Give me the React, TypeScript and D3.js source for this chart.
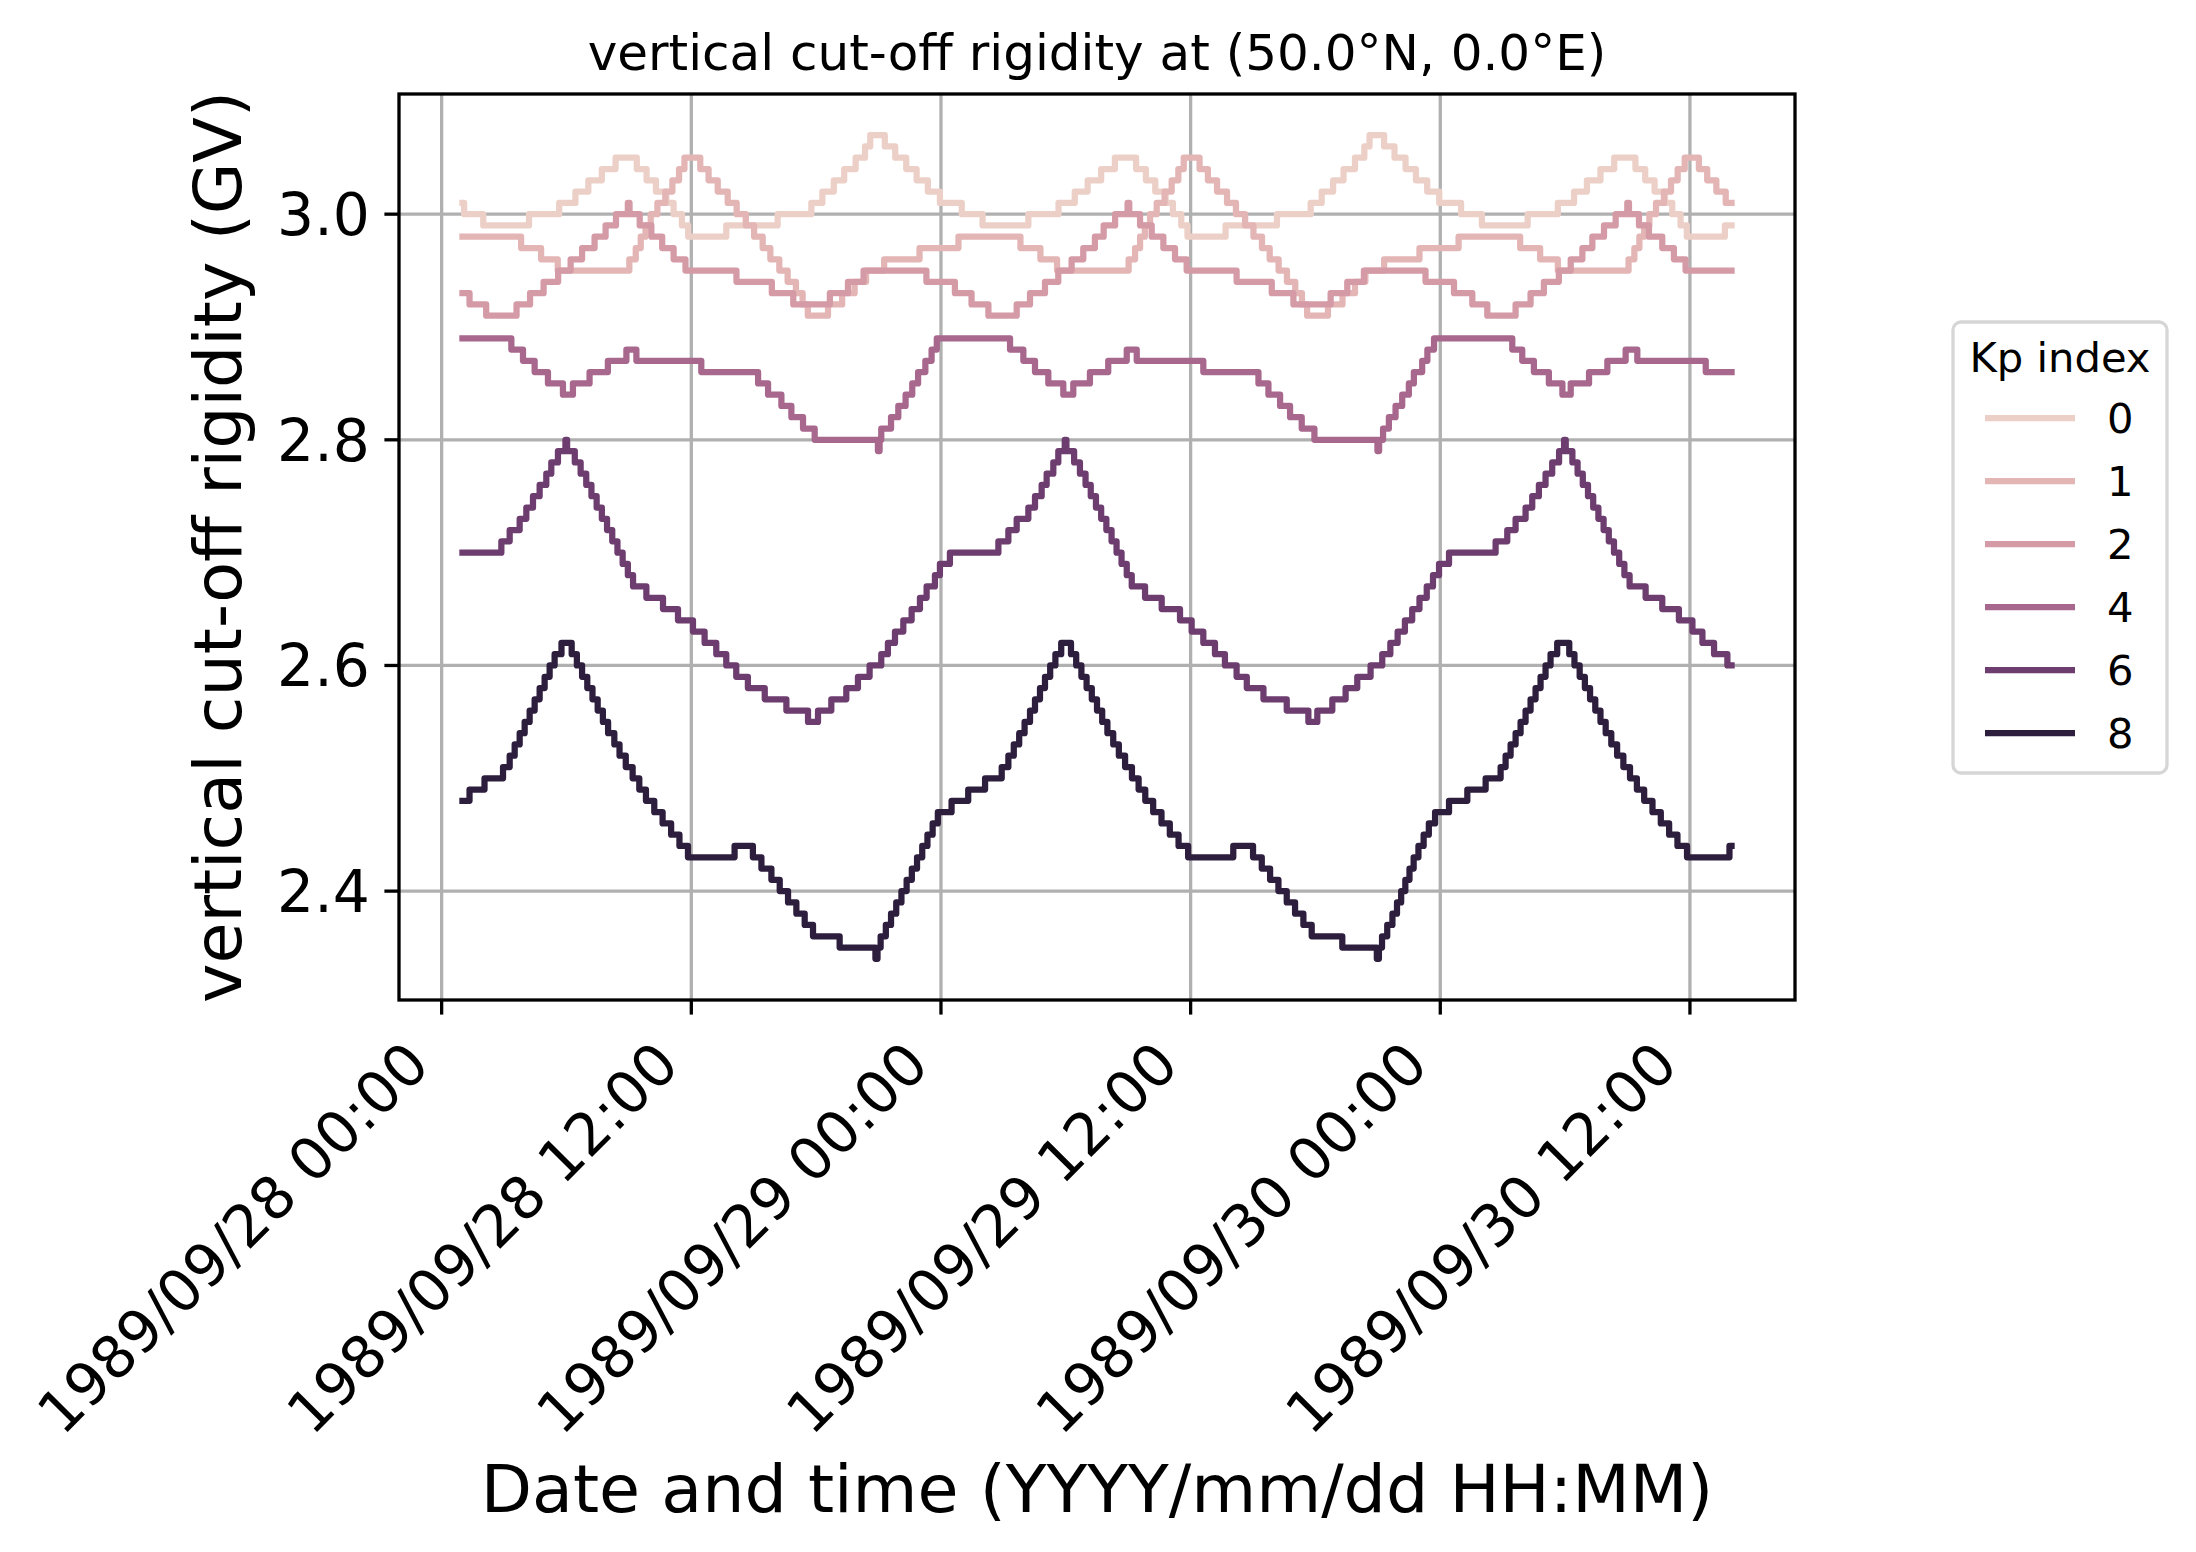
import React from "react";
import * as d3 from "d3";

// hours after 1989/09/28 00:00 UTC, value in GV (change points of each step series)
const kp0: [number, number][] = [
  [1.0, 3.01], [1.08, 3.0], [2.0, 2.99], [4.2, 3.0], [5.65, 3.01], [6.43, 3.02], [7.05, 3.03], [7.7, 3.04], [8.36, 3.05],
  [9.38, 3.04], [9.85, 3.03], [10.3, 3.02], [10.8, 3.01], [11.15, 3.0], [11.55, 2.99], [11.85, 2.98], [13.68, 2.99],
  [16.15, 3.0], [17.77, 3.01], [18.3, 3.02], [18.85, 3.03], [19.35, 3.04], [19.9, 3.05], [20.35, 3.06], [20.6, 3.07],
  [21.3, 3.06], [21.8, 3.05], [22.33, 3.04], [22.83, 3.03], [23.37, 3.02], [23.95, 3.01],
  [25.0, 3.0], [26.0, 2.99], [28.2, 3.0], [29.65, 3.01], [30.43, 3.02], [31.05, 3.03], [31.7, 3.04], [32.36, 3.05],
  [33.38, 3.04], [33.85, 3.03], [34.3, 3.02], [34.8, 3.01], [35.15, 3.0], [35.55, 2.99], [35.85, 2.98], [37.68, 2.99],
  [40.15, 3.0], [41.77, 3.01], [42.3, 3.02], [42.85, 3.03], [43.35, 3.04], [43.9, 3.05], [44.35, 3.06], [44.6, 3.07],
  [45.3, 3.06], [45.8, 3.05], [46.33, 3.04], [46.83, 3.03], [47.37, 3.02], [47.95, 3.01],
  [49.0, 3.0], [50.0, 2.99], [52.2, 3.0], [53.65, 3.01], [54.43, 3.02], [55.05, 3.03], [55.7, 3.04], [56.36, 3.05],
  [57.38, 3.04], [57.85, 3.03], [58.3, 3.02], [58.8, 3.01], [59.15, 3.0], [59.55, 2.99], [59.85, 2.98], [61.68, 2.99],
  [62.0, 2.99],
];

const kp1: [number, number][] = [
  [1.0, 2.98], [3.82, 2.97], [4.78, 2.96], [5.58, 2.95], [9.02, 2.96], [9.33, 2.97], [9.57, 2.98], [9.8, 2.99],
  [10.05, 3.0], [10.37, 3.01], [10.75, 3.02], [11.09, 3.03], [11.41, 3.04], [11.67, 3.05], [12.43, 3.04], [12.83, 3.03],
  [13.27, 3.02], [13.75, 3.01], [14.18, 3.0], [14.62, 2.99], [15.02, 2.98], [15.43, 2.97], [15.8, 2.96], [16.23, 2.95],
  [16.63, 2.94], [17.03, 2.93], [17.35, 2.92], [17.6, 2.91], [18.57, 2.92], [19.25, 2.93], [19.85, 2.94], [20.4, 2.95],
  [21.27, 2.96], [22.97, 2.97], [24.84, 2.98], [27.82, 2.97], [28.78, 2.96], [29.58, 2.95], [33.02, 2.96], [33.33, 2.97],
  [33.57, 2.98], [33.8, 2.99], [34.05, 3.0], [34.37, 3.01], [34.75, 3.02], [35.09, 3.03], [35.41, 3.04], [35.67, 3.05],
  [36.43, 3.04], [36.83, 3.03], [37.27, 3.02], [37.75, 3.01], [38.18, 3.0], [38.62, 2.99], [39.02, 2.98], [39.43, 2.97],
  [39.8, 2.96], [40.23, 2.95], [40.63, 2.94], [41.03, 2.93], [41.35, 2.92], [41.6, 2.91], [42.6, 2.92], [43.3, 2.93],
  [43.9, 2.94], [44.4, 2.95], [45.3, 2.96], [47.0, 2.97], [48.88, 2.98], [51.84, 2.97], [52.8, 2.96], [53.65, 2.95],
  [57.05, 2.96], [57.33, 2.97], [57.57, 2.98], [57.8, 2.99], [58.05, 3.0], [58.37, 3.01], [58.75, 3.02], [59.09, 3.03],
  [59.41, 3.04], [59.75, 3.05], [60.43, 3.04], [60.83, 3.03], [61.27, 3.02], [61.72, 3.01], [62.0, 3.01],
];

const kp2: [number, number][] = [
  [1.0, 2.93], [1.34, 2.92], [2.14, 2.91], [3.6, 2.92], [4.25, 2.93], [4.9, 2.94], [5.6, 2.95], [6.2, 2.96], [6.75, 2.97],
  [7.35, 2.98], [7.88, 2.99], [8.38, 3.0], [8.95, 3.01], [9.03, 3.0], [9.52, 2.99], [10.08, 2.98], [10.6, 2.97],
  [11.15, 2.96], [11.72, 2.95], [14.17, 2.94], [15.87, 2.93], [16.9, 2.92], [18.66, 2.93], [19.53, 2.94], [20.28, 2.95],
  [23.3, 2.94], [24.67, 2.93], [25.47, 2.92], [26.28, 2.91], [27.64, 2.92], [28.28, 2.93], [29.0, 2.94], [29.64, 2.95],
  [30.28, 2.96], [30.84, 2.97], [31.4, 2.98], [31.82, 2.99], [32.37, 3.0], [32.97, 3.01], [33.05, 3.0], [33.57, 2.99],
  [34.13, 2.98], [34.69, 2.97], [35.25, 2.96], [35.81, 2.95], [38.21, 2.94], [39.9, 2.93], [40.94, 2.92], [42.73, 2.93],
  [43.53, 2.94], [44.33, 2.95], [47.29, 2.94], [48.66, 2.93], [49.54, 2.92], [50.26, 2.91], [51.62, 2.92], [52.34, 2.93],
  [52.98, 2.94], [53.7, 2.95], [54.27, 2.96], [54.83, 2.97], [55.31, 2.98], [55.87, 2.99], [56.43, 3.0], [56.99, 3.01],
  [57.07, 3.0], [57.55, 2.99], [58.03, 2.98], [58.67, 2.97], [59.23, 2.96], [59.79, 2.95], [62.0, 2.95],
];

const kp4: [number, number][] = [
  [1.0, 2.89], [3.35, 2.88], [3.91, 2.87], [4.47, 2.86], [5.11, 2.85], [5.83, 2.84], [6.31, 2.85], [7.11, 2.86],
  [7.99, 2.87], [8.88, 2.88], [9.36, 2.87], [12.48, 2.86], [15.21, 2.85], [15.69, 2.84], [16.33, 2.83], [16.81, 2.82],
  [17.37, 2.81], [17.93, 2.8], [20.97, 2.79], [21.05, 2.8], [21.13, 2.81], [21.6, 2.82], [21.95, 2.83], [22.3, 2.84],
  [22.62, 2.85], [22.9, 2.86], [23.25, 2.87], [23.55, 2.88], [23.8, 2.89],
  [27.32, 2.88], [27.96, 2.87], [28.52, 2.86], [29.16, 2.85], [29.88, 2.84], [30.36, 2.85], [31.16, 2.86], [32.04, 2.87],
  [32.93, 2.88], [33.41, 2.87], [36.61, 2.86], [39.26, 2.85], [39.74, 2.84], [40.3, 2.83], [40.78, 2.82], [41.34, 2.81],
  [41.95, 2.8], [44.98, 2.79], [45.06, 2.8], [45.25, 2.81], [45.53, 2.82], [45.85, 2.83], [46.17, 2.84], [46.49, 2.85],
  [46.73, 2.86], [47.13, 2.87], [47.38, 2.88], [47.7, 2.89],
  [51.46, 2.88], [51.94, 2.87], [52.5, 2.86], [53.22, 2.85], [53.87, 2.84], [54.27, 2.85], [55.15, 2.86], [56.03, 2.87],
  [56.91, 2.88], [57.47, 2.87], [60.76, 2.86], [62.0, 2.86],
];

const kp6: [number, number][] = [
  [1.0, 2.7], [2.87, 2.71], [3.27, 2.72], [3.75, 2.73], [4.07, 2.74], [4.39, 2.75], [4.71, 2.76], [5.03, 2.77],
  [5.27, 2.78], [5.59, 2.79], [5.95, 2.8], [6.03, 2.79], [6.4, 2.78], [6.68, 2.77], [6.95, 2.76], [7.2, 2.75],
  [7.45, 2.74], [7.7, 2.73], [7.95, 2.72], [8.2, 2.71], [8.45, 2.7], [8.7, 2.69], [8.95, 2.68], [9.2, 2.67],
  [9.84, 2.66], [10.64, 2.65], [11.36, 2.64], [12.08, 2.63], [12.64, 2.62], [13.2, 2.61], [13.68, 2.6], [14.16, 2.59],
  [14.72, 2.58], [15.53, 2.57], [16.57, 2.56], [17.61, 2.55], [18.09, 2.56], [18.73, 2.57], [19.45, 2.58], [20.01, 2.59],
  [20.57, 2.6], [21.13, 2.61], [21.45, 2.62], [21.79, 2.63], [22.19, 2.64], [22.59, 2.65], [22.99, 2.66], [23.31, 2.67],
  [23.71, 2.68], [23.95, 2.69], [24.43, 2.7],
  [26.76, 2.71], [27.24, 2.72], [27.64, 2.73], [28.2, 2.74], [28.52, 2.75], [28.84, 2.76], [29.08, 2.77], [29.4, 2.78],
  [29.64, 2.79], [29.95, 2.8], [30.03, 2.79], [30.4, 2.78], [30.68, 2.77], [30.95, 2.76], [31.2, 2.75], [31.45, 2.74],
  [31.7, 2.73], [31.95, 2.72], [32.2, 2.71], [32.44, 2.7], [32.68, 2.69], [32.93, 2.68], [33.17, 2.67], [33.81, 2.66],
  [34.61, 2.65], [35.49, 2.64], [36.05, 2.63], [36.61, 2.62], [37.17, 2.61], [37.65, 2.6], [38.21, 2.59], [38.7, 2.58],
  [39.5, 2.57], [40.62, 2.56], [41.66, 2.55], [42.09, 2.56], [42.81, 2.57], [43.45, 2.58], [44.01, 2.59], [44.65, 2.6],
  [45.21, 2.61], [45.6, 2.62], [45.95, 2.63], [46.3, 2.64], [46.65, 2.65], [47.0, 2.66], [47.35, 2.67], [47.65, 2.68],
  [47.94, 2.69], [48.42, 2.7],
  [50.66, 2.71], [51.22, 2.72], [51.62, 2.73], [52.1, 2.74], [52.42, 2.75], [52.74, 2.76], [53.06, 2.77], [53.38, 2.78],
  [53.71, 2.79], [53.95, 2.8], [54.03, 2.79], [54.35, 2.78], [54.6, 2.77], [54.85, 2.76], [55.1, 2.75], [55.35, 2.74],
  [55.6, 2.73], [55.85, 2.72], [56.1, 2.71], [56.35, 2.7], [56.6, 2.69], [56.85, 2.68], [57.1, 2.67], [57.87, 2.66],
  [58.67, 2.65], [59.47, 2.64], [60.12, 2.63], [60.6, 2.62], [61.16, 2.61], [61.8, 2.6], [62.0, 2.6],
];

const kp8: [number, number][] = [
  [1.0, 2.48], [1.34, 2.49], [2.06, 2.5], [2.95, 2.51], [3.27, 2.52], [3.51, 2.53], [3.75, 2.54], [3.99, 2.55],
  [4.23, 2.56], [4.47, 2.57], [4.71, 2.58], [4.95, 2.59], [5.19, 2.6], [5.43, 2.61], [5.76, 2.62], [6.25, 2.61],
  [6.5, 2.6], [6.75, 2.59], [7.0, 2.58], [7.25, 2.57], [7.5, 2.56], [7.75, 2.55], [8.0, 2.54], [8.3, 2.53], [8.55, 2.52],
  [8.85, 2.51], [9.18, 2.5], [9.5, 2.49], [9.82, 2.48], [10.22, 2.47], [10.62, 2.46], [11.03, 2.45], [11.43, 2.44],
  [11.84, 2.43], [14.08, 2.44], [14.96, 2.43], [15.37, 2.42], [15.85, 2.41], [16.25, 2.4], [16.65, 2.39], [17.05, 2.38],
  [17.45, 2.37], [17.85, 2.36], [19.13, 2.35], [20.85, 2.34], [20.95, 2.35], [21.1, 2.36], [21.35, 2.37], [21.6, 2.38],
  [21.85, 2.39], [22.1, 2.4], [22.35, 2.41], [22.6, 2.42], [22.85, 2.43], [23.1, 2.44], [23.35, 2.45], [23.6, 2.46],
  [23.85, 2.47], [24.51, 2.48], [25.31, 2.49], [26.12, 2.5], [26.92, 2.51], [27.24, 2.52], [27.5, 2.53], [27.76, 2.54],
  [28.02, 2.55], [28.28, 2.56], [28.52, 2.57], [28.76, 2.58], [29.0, 2.59], [29.25, 2.6], [29.5, 2.61], [29.78, 2.62],
  [30.25, 2.61], [30.5, 2.6], [30.75, 2.59], [31.0, 2.58], [31.25, 2.57], [31.5, 2.56], [31.75, 2.55], [32.0, 2.54],
  [32.28, 2.53], [32.55, 2.52], [32.85, 2.51], [33.18, 2.5], [33.5, 2.49], [33.82, 2.48], [34.2, 2.47], [34.6, 2.46],
  [35.0, 2.45], [35.42, 2.44], [35.88, 2.43], [38.05, 2.44], [39.0, 2.43], [39.42, 2.42], [39.82, 2.41], [40.22, 2.4],
  [40.62, 2.39], [41.02, 2.38], [41.42, 2.37], [41.82, 2.36], [43.29, 2.35], [44.95, 2.34], [45.05, 2.35], [45.2, 2.36],
  [45.45, 2.37], [45.7, 2.38], [45.92, 2.39], [46.12, 2.4], [46.32, 2.41], [46.52, 2.42], [46.72, 2.43], [46.95, 2.44],
  [47.2, 2.45], [47.45, 2.46], [47.75, 2.47], [48.42, 2.48], [49.3, 2.49], [50.18, 2.5], [50.9, 2.51], [51.14, 2.52],
  [51.38, 2.53], [51.62, 2.54], [51.86, 2.55], [52.1, 2.56], [52.34, 2.57], [52.58, 2.58], [52.82, 2.59], [53.06, 2.6],
  [53.3, 2.61], [53.62, 2.62], [54.2, 2.61], [54.45, 2.6], [54.7, 2.59], [54.95, 2.58], [55.2, 2.57], [55.45, 2.56],
  [55.7, 2.55], [55.95, 2.54], [56.22, 2.53], [56.5, 2.52], [56.8, 2.51], [57.12, 2.5], [57.45, 2.49], [57.8, 2.48],
  [58.2, 2.47], [58.6, 2.46], [59.0, 2.45], [59.4, 2.44], [59.86, 2.43], [61.9, 2.44], [62.0, 2.44],
];

const kpLevels = ["0", "1", "2", "4", "6", "8"];
const kpSeries = [kp0, kp1, kp2, kp4, kp6, kp8];
const kpColors = ["#ecd0c8", "#e4b5b5", "#d49aa6", "#a8678d", "#6d3d6f", "#2d1e3e"];

const xTickLabels = [
  "1989/09/28 00:00", "1989/09/28 12:00", "1989/09/29 00:00",
  "1989/09/29 12:00", "1989/09/30 00:00", "1989/09/30 12:00",
];
const yTickValues = [2.4, 2.6, 2.8, 3.0];

const T0 = Date.UTC(1989, 8, 28);
const toDate = (h: number) => new Date(T0 + h * 3600e3);

const W = 2196, H = 1552;
const AX = { left: 399, right: 1795, top: 94, bottom: 1000 };
const FONT = "DejaVu Sans, sans-serif";

export default function App() {
  const allPts = kpSeries.flat();
  const [h0, h1] = d3.extent(allPts, (d) => d[0]) as [number, number];
  const [v0, v1] = d3.extent(allPts, (d) => d[1]) as [number, number];
  const hp = (h1 - h0) * 0.05;
  const vp = (v1 - v0) * 0.05;

  const x = d3.scaleUtc().domain([toDate(h0 - hp), toDate(h1 + hp)]).range([AX.left, AX.right]);
  const y = d3.scaleLinear().domain([v0 - vp, v1 + vp]).range([AX.bottom, AX.top]);

  const parse = d3.utcParse("%Y/%m/%d %H:%M");
  const xTicks = xTickLabels.map((s) => ({ label: s, pos: x(parse(s) as Date) }));

  const line = d3
    .line<[number, number]>()
    .x((d) => x(toDate(d[0])))
    .y((d) => y(d[1]))
    .curve(d3.curveStepAfter);

  const tickFs = 58.3;
  const lw = 3.3;
  const tickLen = 14.6;
  const legX = 1953, legY = 322, legW = 214, legH = 451;

  return (
    <svg width={W} height={H} style={{ display: "block", background: "#fff" }} fontFamily={FONT}>
      <style>{`body{margin:0}`}</style>
      <rect width={W} height={H} fill="#fff" />

      {/* grid */}
      {xTicks.map((t) => (
        <line key={"gx" + t.label} x1={t.pos} x2={t.pos} y1={AX.top} y2={AX.bottom} stroke="#b0b0b0" strokeWidth={lw} />
      ))}
      {yTickValues.map((v) => (
        <line key={"gy" + v} x1={AX.left} x2={AX.right} y1={y(v)} y2={y(v)} stroke="#b0b0b0" strokeWidth={lw} />
      ))}

      {/* series */}
      {kpSeries.map((s, i) => (
        <path
          key={"s" + i}
          d={line(s) || ""}
          fill="none"
          stroke={kpColors[i]}
          strokeWidth={6.25}
          strokeLinecap="square"
          strokeLinejoin="round"
        />
      ))}

      {/* spines */}
      <rect
        x={AX.left}
        y={AX.top}
        width={AX.right - AX.left}
        height={AX.bottom - AX.top}
        fill="none"
        stroke="#000"
        strokeWidth={lw}
      />

      {/* x ticks */}
      {xTicks.map((t) => {
        const px = t.pos - 0.707 * 0.236 * tickFs;
        const py = AX.bottom + tickLen + 14.6 + 0.707 * 0.928 * tickFs;
        return (
          <g key={"xt" + t.label}>
            <line x1={t.pos} x2={t.pos} y1={AX.bottom} y2={AX.bottom + tickLen} stroke="#000" strokeWidth={lw} />
            <text
              x={px}
              y={py}
              fontSize={tickFs}
              textAnchor="end"
              transform={`rotate(-45 ${px} ${py})`}
              fill="#000"
            >
              {t.label}
            </text>
          </g>
        );
      })}

      {/* y ticks */}
      {yTickValues.map((v) => (
        <g key={"yt" + v}>
          <line x1={AX.left - tickLen} x2={AX.left} y1={y(v)} y2={y(v)} stroke="#000" strokeWidth={lw} />
          <text x={AX.left - tickLen - 14.6} y={y(v)} dy="0.36em" fontSize={tickFs} textAnchor="end" fill="#000">
            {d3.format(".1f")(v)}
          </text>
        </g>
      ))}

      {/* labels */}
      <text x={(AX.left + AX.right) / 2} y={70} fontSize={50} textAnchor="middle" fill="#000">
        vertical cut-off rigidity at (50.0°N, 0.0°E)
      </text>
      <text x={(AX.left + AX.right) / 2} y={1512} fontSize={66.7} textAnchor="middle" fill="#000">
        Date and time (YYYY/mm/dd HH:MM)
      </text>
      <text
        x={241}
        y={(AX.top + AX.bottom) / 2}
        fontSize={66.7}
        textAnchor="middle"
        transform={`rotate(-90 241 ${(AX.top + AX.bottom) / 2})`}
        fill="#000"
      >
        vertical cut-off rigidity (GV)
      </text>

      {/* legend */}
      <rect
        x={legX}
        y={legY}
        width={legW}
        height={legH}
        rx={8}
        fill="#fff"
        fillOpacity={0.8}
        stroke="#d6d6d6"
        strokeWidth={3.3}
      />
      <text x={legX + legW / 2} y={legY + 50} fontSize={41.7} textAnchor="middle" fill="#000">
        Kp index
      </text>
      {kpLevels.map((k, i) => {
        const ly = legY + 96 + i * 63;
        return (
          <g key={"lg" + k}>
            <line x1={legX + 32} x2={legX + 122} y1={ly} y2={ly} stroke={kpColors[i]} strokeWidth={6.25} />
            <text x={legX + 154} y={ly + 15} fontSize={41.7} fill="#000">
              {k}
            </text>
          </g>
        );
      })}
    </svg>
  );
}
